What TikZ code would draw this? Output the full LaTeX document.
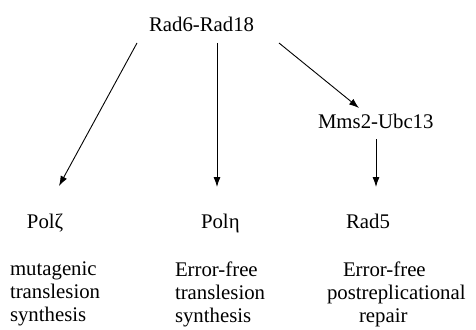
\documentclass[tikz,border=0pt]{standalone}
\usepackage{fontspec}
\setmainfont{Liberation Serif}
\usetikzlibrary{arrows.meta}
\begin{document}
\begin{tikzpicture}[x=1pt,y=-1pt,
  lbl/.style={inner sep=0pt,outer sep=0pt,font=\fontsize{20.8}{23}\selectfont},
  blk/.style={lbl,anchor=north west,align=left},
  arr/.style={line width=0.9pt,-{Latex[length=10pt,width=7pt]}}]
\useasboundingbox (0,0) rectangle (476,329);
\node[lbl,anchor=base west] (rad) at (149,31.5) {Rad6-Rad18};
\node[lbl,anchor=base west] (mms) at (318,128.5) {Mms2-Ubc13};
\node[lbl,anchor=base west] (polz) at (27,228) {Polζ};
\node[lbl,anchor=base west] (polh) at (201,228) {Polη};
\node[lbl,anchor=base west] (rad5) at (346,228) {Rad5};
\node[blk] (b1) at (10,262) {mutagenic\\translesion\\synthesis};
\node[blk] (b2) at (175,262) {Error-free\\translesion\\synthesis};
\node[blk] (b3) at (327,262) {\hspace*{16pt}Error-free\\postreplicational\\\hspace*{32pt}repair};
\coordinate (s1) at (137,43);  \coordinate (e1) at (59,186);
\coordinate (s2) at (217,43);  \coordinate (e2) at (217,187);
\coordinate (s3) at (279,43);  \coordinate (e3) at (359,108);
\coordinate (s4) at (376,139); \coordinate (e4) at (376,187);
\draw[arr] (s1) -- (e1);
\draw[arr] (s2) -- (e2);
\draw[arr] (s3) -- (e3);
\draw[arr] (s4) -- (e4);
\end{tikzpicture}
\end{document}
